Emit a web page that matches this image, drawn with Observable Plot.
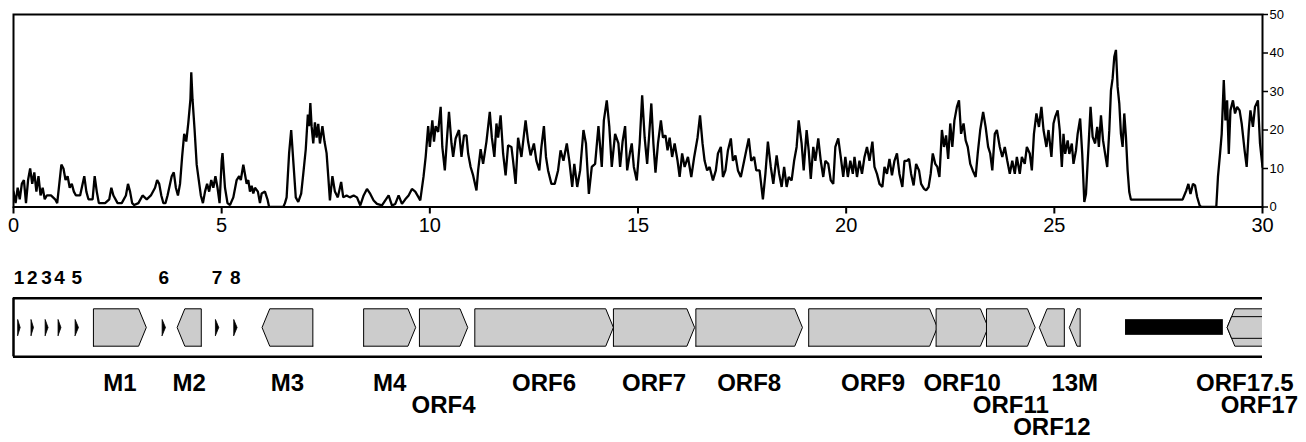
<!DOCTYPE html>
<html><head><meta charset="utf-8">
<script src="https://cdn.jsdelivr.net/npm/d3@7"></script>
<script src="https://cdn.jsdelivr.net/npm/@observablehq/plot@0.6"></script>
<style>
body{margin:0;background:#fff;font-family:"Liberation Sans",Arial,sans-serif}
svg{display:block}
</style>
</head><body><div id="chart"></div>
<script>
// Read-depth coverage: [position (kb), depth]
const coverage = [
[0.0,4],[0.05,1],[0.1,5],[0.15,2],[0.2,6],[0.25,7],[0.3,1],[0.35,7],[0.4,10],[0.45,6],[0.5,9],[0.55,4],[0.6,8],[0.65,3],[0.7,5],[0.75,2],[0.8,3],[0.9,3],[1.0,2],[1.05,1],[1.15,11],[1.2,10],[1.25,7],[1.3,8],[1.35,5],[1.4,6],[1.45,4],[1.5,3],[1.6,3],[1.7,8],[1.75,4],[1.8,2],[1.9,2],[1.95,8],[2.0,4],[2.05,1],[2.1,1],[2.2,1],[2.3,2],[2.35,5],[2.4,3],[2.5,1],[2.6,1],[2.7,3],[2.75,6],[2.8,4],[2.85,1],[2.9,0.5],[3.0,1],[3.1,3],[3.2,2],[3.3,3],[3.4,5],[3.45,7],[3.5,6],[3.55,3],[3.6,1],[3.65,1],[3.7,3],[3.8,8],[3.85,9],[3.9,5],[3.95,3],[4.0,6],[4.05,13],[4.1,19],[4.15,17],[4.2,22],[4.25,28],[4.27,35],[4.3,28],[4.35,20],[4.4,11],[4.45,7],[4.5,3],[4.55,1],[4.6,4],[4.65,6],[4.7,4],[4.75,7],[4.8,5],[4.85,8],[4.9,5],[4.95,1],
[5.0,12],[5.02,14],[5.08,5],[5.14,1],[5.2,0.5],[5.28,2.5],[5.36,7],[5.42,8],[5.46,7],[5.52,11],[5.56,8.5],[5.6,6],[5.64,7],[5.68,4],[5.72,5.5],[5.76,3.5],[5.8,5],[5.87,4],[5.92,1],[5.96,3.5],[6.04,4],[6.1,2],[6.14,0],[6.48,0],[6.52,1],[6.56,2.5],[6.62,14],[6.67,20],[6.72,12],[6.78,2.5],[6.84,1.3],[6.91,3.5],[6.96,8.6],[7.02,15],[7.07,24],[7.1,21],[7.13,27],[7.16,21],[7.2,16.5],[7.24,22],[7.28,18],[7.32,21.6],[7.36,16.5],[7.42,21],[7.47,17],[7.52,14],[7.56,8],[7.6,1.7],[7.66,8],[7.72,4],[7.79,2.5],[7.87,6.5],[7.92,2.5],[8.0,3],[8.08,2.5],[8.17,3],[8.25,2.5],[8.33,0.4],[8.41,3],[8.49,4.7],[8.57,3.4],[8.65,1.7],[8.73,0.8],[8.85,0.4],[8.93,1.7],[9.01,3],[9.09,0.4],[9.17,0.8],[9.25,3],[9.33,0.8],[9.41,2],[9.49,3],[9.57,4.7],[9.65,4],[9.73,2.5],[9.77,1.7],[9.85,8],[9.9,13],
[9.96,21],[10.0,15.6],[10.06,22.5],[10.1,17],[10.14,21],[10.2,19.5],[10.26,26],[10.3,15.6],[10.36,9.5],[10.42,19],[10.46,24.7],[10.52,16.5],[10.56,13],[10.62,17.8],[10.7,20],[10.76,13],[10.82,18.6],[10.88,18.6],[10.92,13.9],[10.98,10.4],[11.04,8.2],[11.12,4.3],[11.16,9.5],[11.22,15],[11.28,11.2],[11.36,17],[11.44,24.7],[11.49,18],[11.55,13],[11.6,21.7],[11.64,18],[11.7,23.8],[11.76,13.9],[11.82,8.2],[11.88,16],[11.96,15.6],[12.0,12],[12.06,6],[12.12,18],[12.2,13],[12.3,22.5],[12.36,17],[12.42,13.4],[12.5,16.5],[12.56,12],[12.63,9.5],[12.68,15.6],[12.74,21],[12.79,13],[12.84,9.5],[12.92,6],[13.0,6],[13.08,9.5],[13.14,14.7],[13.21,12],[13.29,16.5],[13.35,12],[13.42,5.2],[13.47,11.2],[13.54,5.2],[13.61,9.5],[13.69,20],[13.75,16.5],[13.82,3.4],[13.89,10.4],[13.97,11.2],[14.05,21],[14.13,10.4],[14.18,22.5],[14.25,27.7],[14.31,21],[14.37,10.4],[14.45,19],[14.53,16.5],[14.57,10.4],[14.63,17],[14.69,21],[14.74,9.5],[14.81,14.3],[14.85,16.5],[14.9,10.4],[14.97,6.9],
[15.04,16.5],[15.1,29],[15.16,18],[15.22,11.2],[15.27,19],[15.32,26.9],[15.37,16.5],[15.42,8.9],[15.48,16.5],[15.55,22.5],[15.6,18],[15.66,18.6],[15.71,14.7],[15.76,18],[15.82,13],[15.88,16.5],[15.95,12],[16.0,7.8],[16.06,13.9],[16.12,10.4],[16.2,13],[16.28,7.8],[16.35,13],[16.43,18],[16.49,23.8],[16.55,16.5],[16.6,12],[16.66,9.5],[16.72,10.4],[16.8,6.9],[16.87,9.5],[16.92,13.9],[16.99,15.6],[17.04,7.8],[17.1,9.5],[17.16,14.7],[17.23,17.8],[17.28,12],[17.34,13.4],[17.4,9.5],[17.47,7.8],[17.55,12],[17.6,14.7],[17.66,17.8],[17.72,12],[17.79,13],[17.84,9.5],[17.92,9.5],[18.0,2],[18.06,8.6],[18.12,17],[18.19,10.4],[18.25,6],[18.33,13.4],[18.39,8.6],[18.45,5.2],[18.51,10.4],[18.57,5.2],[18.62,7.8],[18.69,6.9],[18.75,12],[18.81,15.6],[18.86,22.5],[18.93,16.5],[18.98,9.5],[19.05,20],[19.1,14.7],[19.15,7.3],[19.21,15.6],[19.26,12],[19.33,17.8],[19.39,12],[19.45,7.8],[19.5,12],[19.57,11.2],[19.63,6.9],[19.69,6],[19.74,15.6],[19.81,17.8],[19.87,13],[19.93,7.8],
[19.98,13],[20.04,7.8],[20.1,12],[20.16,8.6],[20.2,13],[20.26,7.8],[20.32,12],[20.38,8.6],[20.44,13],[20.5,15.6],[20.56,12],[20.63,17],[20.68,10.4],[20.74,8.6],[20.8,6],[20.87,5.2],[20.92,10.4],[20.98,8.6],[21.04,12.5],[21.1,8.2],[21.16,12],[21.22,13.9],[21.28,8.6],[21.35,5.2],[21.4,12],[21.46,12],[21.51,12.5],[21.56,8.6],[21.62,5.6],[21.68,11.2],[21.75,9.5],[21.8,6],[21.87,4.7],[21.92,4.3],[21.98,5.2],[22.03,8.6],[22.08,13.9],[22.14,11.2],[22.19,10.4],[22.24,7.8],[22.3,20],[22.35,15.6],[22.4,18.6],[22.45,12.5],[22.5,21.7],[22.55,15.6],[22.6,22.5],[22.66,26],[22.71,27.7],[22.76,19],[22.82,21.7],[22.87,17.3],[22.92,15.6],[22.98,11.2],[23.04,9.5],[23.11,7.8],[23.16,13.9],[23.22,20],[23.29,24.7],[23.35,20.8],[23.41,15.6],[23.46,13.9],[23.51,9.5],[23.57,19],[23.62,20],[23.69,15.6],[23.75,13],[23.81,15.6],[23.87,12],[23.93,8.6],[23.99,12],[24.05,8.6],[24.1,13],[24.17,8.6],[24.22,13],[24.29,11.2],[24.34,15.6],[24.41,13.9],[24.46,9.5],[24.51,19],[24.57,24.3],[24.63,20.8],[24.69,26],[24.74,20],[24.81,15.6],[24.86,20],[24.93,13],[24.98,21.7],
[25.02,23.4],[25.08,25.1],[25.13,19.9],[25.18,10.4],[25.22,19],[25.26,13.8],[25.32,17.3],[25.36,13.8],[25.42,16.5],[25.46,11.2],[25.52,14.7],[25.56,19],[25.62,23],[25.67,13.8],[25.72,1.3],[25.76,3.4],[25.82,15.6],[25.87,26],[25.92,18.2],[25.98,16.5],[26.03,20.8],[26.07,15.6],[26.12,23.8],[26.17,17.3],[26.22,13.8],[26.27,10.4],[26.32,19.9],[26.36,30.3],[26.4,33.4],[26.44,39],[26.48,40.8],[26.52,31.2],[26.56,26.9],[26.6,19],[26.64,15.6],[26.68,24.3],[26.72,18.2],[26.76,9.5],[26.8,3.9],[26.84,1.9],[28.08,1.9],[28.17,4.3],[28.22,6],[28.27,3.4],[28.33,6],[28.38,5.6],[28.43,2.6],[28.49,0.4],[28.53,0],[28.89,0],[28.93,7.8],[28.98,13.8],[29.02,19],[29.07,33],[29.11,22.5],[29.15,27.7],[29.19,13.8],[29.23,25.1],[29.29,27.7],[29.34,24.3],[29.39,26],[29.45,25.1],[29.5,21.7],[29.57,14.7],[29.62,10.4],[29.67,19.9],[29.71,25.1],[29.77,20.8],[29.82,26],[29.89,27.7],[29.94,16.5],[30.0,10.4]
];
const xTicks = [0, 5, 10, 15, 20, 25, 30];
const yTicks = [0, 10, 20, 30, 40, 50];

// Gene map (kb)
const geneNames  = ["1","2","3","4","5","M1","6","M2","7","8","M3","M4","ORF4","ORF6","ORF7","ORF8","ORF9","ORF10","ORF11","ORF12","13M","ORF17.5","ORF17"];
const geneStart  = [0.10,0.42,0.76,1.07,1.48,1.92,3.57,3.93,4.85,5.29,5.97,8.41,9.75,11.08,14.41,16.39,19.10,22.16,23.37,24.64,25.36,29.15,29.15];
const geneEnd    = [0.16,0.48,0.83,1.14,1.56,3.19,3.65,4.51,4.93,5.37,7.19,9.66,10.91,14.41,16.36,18.95,22.19,23.41,24.54,25.24,25.62,30.0,30.7];
const geneStrand = ["+","+","+","+","+","+","+","-","+","+","-","+","+","+","+","+","+","+","+","-","-","-","-"];
const geneType   = ["small","small","small","small","small","orf","small","orf","small","small","orf","orf","orf","orf","orf","orf","orf","orf","orf","orf","orf","orf","inner"];
const labelRow   = [0,0,0,0,0,0,0,0,0,0,0,0,1,0,0,0,0,0,1,2,0,0,1];
const blockStart = [26.71];
const blockEnd   = [29.06];

const halfHeight = {small: 0.43, orf: 1, inner: 0.58};
const headLen = 0.185; // kb per unit half-height (arrow slope)

const covData = coverage.map(([pos, depth]) => ({pos, depth}));

const polys = [];
geneNames.forEach((name, i) => {
  const h = halfHeight[geneType[i]];
  const s = geneStart[i], e = geneEnd[i];
  const head = headLen * h;
  let pts;
  if (geneStrand[i] === "+") {
    const sh = Math.max(s, e - head);
    pts = [[s,-h],[sh,-h],[e,0],[sh,h],[s,h],[s,-h]];
  } else {
    const sh = Math.min(e, s + head);
    pts = [[e,-h],[sh,-h],[s,0],[sh,h],[e,h],[e,-h]];
  }
  pts.forEach(([x,y]) => polys.push({id: name, type: geneType[i], x, y}));
});
const smallPolys = polys.filter(d => d.type === "small");
const bigPolys = polys.filter(d => d.type !== "small");

const labels = geneNames.map((name, i) => ({
  name, type: geneType[i], row: labelRow[i],
  mid: (geneStart[i] + geneEnd[i]) / 2
}));
const blocks = blockStart.map((s, i) => ({s, e: blockEnd[i]}));

const fontStack = "'Liberation Sans', Arial, sans-serif";

const topPlot = Plot.plot({
  width: 1306, height: 245,
  marginLeft: 13, marginRight: 44, marginTop: 14, marginBottom: 38.5,
  style: {fontFamily: fontStack, color: "black", background: "white"},
  x: {domain: [0, 30]},
  y: {domain: [0, 50]},
  marks: [
    Plot.line(covData, {x: "pos", y: "depth", stroke: "black", strokeWidth: 2.3, strokeLinejoin: "miter", clip: true}),
    Plot.frame({strokeWidth: 2}),
    Plot.axisX({ticks: xTicks, tickSize: 7, tickPadding: 4, fontSize: 20, strokeWidth: 2, label: null, tickFormat: d => String(d)}),
    Plot.axisY({anchor: "right", ticks: yTicks, tickSize: 5, tickPadding: 2, fontSize: 13, strokeWidth: 1.5, label: null, tickFormat: d => String(d)})
  ]
});

const bottomPlot = Plot.plot({
  width: 1306, height: 197,
  marginLeft: 13, marginRight: 44, marginTop: 0, marginBottom: 0,
  style: {fontFamily: fontStack, color: "black", background: "white", overflow: "visible"},
  x: {domain: [0, 30], axis: null},
  y: {domain: [-6.15, 4.385], axis: null},
  marks: [
    Plot.ruleY([1.57, -1.57], {x1: 0, x2: 30, strokeWidth: 2.5}),
    Plot.ruleX([0], {y1: -1.57, y2: 1.57, strokeWidth: 2.5}),
    Plot.line(bigPolys, {x: "x", y: "y", z: "id", fill: "#cccccc", stroke: "black", strokeWidth: 1, strokeLinejoin: "miter", curve: "linear", clip: true}),
    Plot.line(smallPolys, {x: "x", y: "y", z: "id", fill: "black", stroke: "black", strokeWidth: 0.8, strokeLinejoin: "miter", curve: "linear"}),
    Plot.rect(blocks, {x1: "s", x2: "e", y1: -0.42, y2: 0.42, fill: "black"}),
    Plot.text(labels.filter(d => d.type === "small"), {x: "mid", y: 2.63, text: "name", fontSize: 19, fontWeight: "bold", fill: "black"}),
    Plot.text(labels.filter(d => d.type !== "small"), {x: "mid", y: d => -3.0 - 1.18 * d.row, text: "name", fontSize: 24, fontWeight: "bold", fill: "black"})
  ]
});

const chartDiv = document.getElementById("chart");
chartDiv.appendChild(topPlot);
chartDiv.appendChild(bottomPlot);
</script>
</body></html>
